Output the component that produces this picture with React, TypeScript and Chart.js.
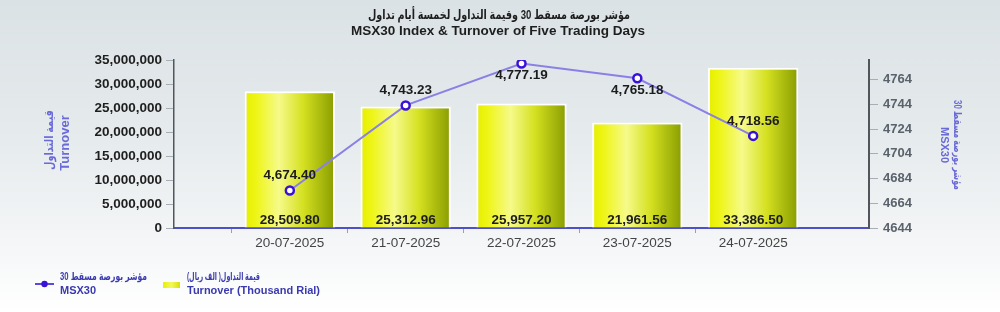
import React, { useEffect, useRef } from "react";
import { Chart, registerables } from "chart.js";

Chart.register(...registerables);

const dates = ["20-07-2025", "21-07-2025", "22-07-2025", "23-07-2025", "24-07-2025"];
const turnoverThousand = [28509.8, 25312.96, 25957.2, 21961.56, 33386.5];
const msx30 = [4674.4, 4743.23, 4777.19, 4765.18, 4718.56];
const leftTicks = [0, 5000000, 10000000, 15000000, 20000000, 25000000, 30000000, 35000000];
const rightTicks = [4644, 4664, 4684, 4704, 4724, 4744, 4764];

const titleAr = "مؤشر بورصة مسقط 30 وقيمة التداول لخمسة أيام تداول";
const titleEn = "MSX30 Index & Turnover of Five Trading Days";
const leftTitleAr = "قيمة التداول";
const leftTitleEn = "Turnover";
const rightTitleAr = "مؤشر بورصة مسقط 30";
const rightTitleEn = "MSX30";
const legendLineAr = "مؤشر بورصة مسقط 30";
const legendLineEn = "MSX30";
const legendBarAr = "قيمة التداول( الف ريال)";
const legendBarEn = "Turnover (Thousand Rial)";

const FONT = '"Liberation Sans", Arial, "DejaVu Sans", sans-serif';

const fmt = (v: number, d: number) =>
  v.toLocaleString("en-US", { minimumFractionDigits: d, maximumFractionDigits: d });

export default function App() {
  const ref = useRef<HTMLCanvasElement | null>(null);

  useEffect(() => {
    if (!ref.current) return;
    const labels = ["", ...dates, ""];
    const barData = [null, ...turnoverThousand.map((v) => v * 1000), null];
    const lineData = [null, ...msx30, null];

    const decor = {
      id: "decor",
      afterDatasetsDraw(chart: any) {
        const ctx = chart.ctx;
        const area = chart.chartArea;
        ctx.save();
        const barMeta = chart.getDatasetMeta(1);
        ctx.font = `bold 13.5px ${FONT}`;
        ctx.fillStyle = "#1c1c1c";
        ctx.textAlign = "center";
        ctx.textBaseline = "middle";
        barMeta.data.forEach((el: any, i: number) => {
          const v = barData[i];
          if (v == null) return;
          ctx.fillText(fmt(v / 1000, 2), el.x, area.bottom - 8);
        });
        const lineMeta = chart.getDatasetMeta(0);
        lineMeta.data.forEach((el: any, i: number) => {
          const v = lineData[i];
          if (v == null) return;
          const below = el.y - area.top < 20;
          ctx.fillText(fmt(v, 2), el.x, below ? el.y + 12 : el.y - 15);
        });
        ctx.restore();
      },
      afterDraw(chart: any) {
        const ctx = chart.ctx;
        ctx.save();
        ctx.fillStyle = "#1e1e1e";
        ctx.textAlign = "center";
        ctx.textBaseline = "middle";
        ctx.font = `bold 13px ${FONT}`;
        ctx.fillText(titleAr, 499, 15, 262);
        ctx.font = `bold 13.5px ${FONT}`;
        ctx.fillText(titleEn, 498, 31);
        // left axis title
        ctx.fillStyle = "#6a6ad8";
        ctx.save();
        ctx.translate(50, 140);
        ctx.rotate(-Math.PI / 2);
        ctx.font = `bold 12px ${FONT}`;
        ctx.fillText(leftTitleAr, 0, 0, 60);
        ctx.restore();
        ctx.save();
        ctx.translate(65, 143);
        ctx.rotate(-Math.PI / 2);
        ctx.font = `bold 13px ${FONT}`;
        ctx.fillText(leftTitleEn, 0, 0);
        ctx.restore();
        // right axis title
        ctx.save();
        ctx.translate(957, 145);
        ctx.rotate(Math.PI / 2);
        ctx.font = `bold 11px ${FONT}`;
        ctx.fillText(rightTitleAr, 0, 0, 90);
        ctx.restore();
        ctx.save();
        ctx.translate(944, 145);
        ctx.rotate(Math.PI / 2);
        ctx.font = `bold 11px ${FONT}`;
        ctx.fillText(rightTitleEn, 0, 0);
        ctx.restore();
        // legend
        ctx.strokeStyle = "#5a48e0";
        ctx.lineWidth = 2;
        ctx.beginPath();
        ctx.moveTo(35, 284);
        ctx.lineTo(54, 284);
        ctx.stroke();
        ctx.fillStyle = "#3a12d6";
        ctx.beginPath();
        ctx.arc(44.5, 284, 3.2, 0, Math.PI * 2);
        ctx.fill();
        const g = ctx.createLinearGradient(163, 0, 180, 0);
        g.addColorStop(0, "#e8f000");
        g.addColorStop(0.5, "#f2f760");
        g.addColorStop(1, "#d8e000");
        ctx.fillStyle = g;
        ctx.fillRect(163, 282, 17, 6);
        ctx.fillStyle = "#3a3ab0";
        ctx.textAlign = "left";
        ctx.font = `bold 11px ${FONT}`;
        ctx.fillText(legendLineAr, 60, 277, 87);
        ctx.fillText(legendLineEn, 60, 291);
        ctx.fillText(legendBarAr, 187, 277, 73);
        ctx.fillText(legendBarEn, 187, 291);
        ctx.restore();
      },
    };

    const barColor = (c: any) => {
      const chart = c.chart;
      const area = chart.chartArea;
      if (!area || c.type !== "data" || !chart.scales.x) return "#e8f000";
      const x = chart.scales.x.getPixelForValue(c.dataIndex);
      const half = ((area.right - area.left) / 6) * 0.78 / 2;
      const g = chart.ctx.createLinearGradient(x - half, 0, x + half, 0);
      g.addColorStop(0, "#e6ee00");
      g.addColorStop(0.12, "#eef514");
      g.addColorStop(0.38, "#f6fa8a");
      g.addColorStop(0.65, "#d4e020");
      g.addColorStop(1, "#889c00");
      return g;
    };

    const chart = new Chart(ref.current, {
      type: "bar",
      data: {
        labels,
        datasets: [
          {
            type: "line",
            label: "MSX30",
            data: lineData,
            yAxisID: "y1",
            order: 1,
            borderColor: "#8a80e6",
            borderWidth: 2,
            pointRadius: 4,
            pointBorderWidth: 2.5,
            pointBorderColor: "#3a12d6",
            pointBackgroundColor: "#ffffff",
            tension: 0,
            spanGaps: false,
          } as any,
          {
            type: "bar",
            label: "Turnover",
            data: barData,
            yAxisID: "y",
            order: 2,
            backgroundColor: barColor,
            borderColor: "#ffffff",
            borderWidth: 2,
            categoryPercentage: 0.78,
            barPercentage: 1,
          } as any,
        ],
      },
      options: {
        animation: false,
        responsive: false,
        maintainAspectRatio: false,
        layout: { padding: { top: 60, left: 0, right: 0, bottom: 0 } },
        plugins: { legend: { display: false }, tooltip: { enabled: false }, title: { display: false } },
        scales: {
          x: {
            type: "category",
            offset: false,
            grid: {
              display: true,
              drawOnChartArea: false,
              tickLength: 5,
              tickColor: (c: any) => (c.index === 0 || c.index === labels.length - 1 ? "rgba(0,0,0,0)" : "#9aa0a8"),
            },
            border: { color: "#4f4fc8", width: 2 },
            ticks: { color: "#444", font: { family: FONT, size: 13.5 }, padding: 2, maxRotation: 0, autoSkip: false },
            afterFit: (s: any) => {
              s.height = 84;
            },
          },
          y: {
            position: "left",
            min: 0,
            max: 35000000,
            grid: { display: true, drawOnChartArea: false, tickLength: 8, tickColor: "#a8aeb4" },
            border: { color: "#50565c", width: 1.5 },
            afterBuildTicks: (s: any) => {
              s.ticks = leftTicks.map((v) => ({ value: v }));
            },
            ticks: {
              color: "#1e1e1e",
              font: { family: FONT, size: 13.5, weight: "bold" },
              padding: 4,
              callback: (v: any) => Number(v).toLocaleString("en-US"),
            },
            afterFit: (s: any) => {
              s.width = 174;
            },
          },
          y1: {
            position: "right",
            min: 4644,
            max: 4780,
            grid: { display: true, drawOnChartArea: false, tickLength: 9, tickColor: "#a8aeb4" },
            border: { color: "#50565c", width: 2 },
            afterBuildTicks: (s: any) => {
              s.ticks = rightTicks.map((v) => ({ value: v }));
            },
            ticks: {
              color: "#5a626c",
              font: { family: FONT, size: 13, weight: "bold" },
              padding: 5,
              callback: (v: any) => String(v),
            },
            afterFit: (s: any) => {
              s.width = 131;
            },
          },
        },
      },
      plugins: [decor],
    } as any);
    return () => chart.destroy();
  }, []);

  return (
    <div
      style={{
        width: 1000,
        height: 312,
        background: "linear-gradient(to bottom, #dbe2e5 0%, #e6ebed 45%, #f3f5f6 75%, #ffffff 100%)",
      }}
    >
      <style>{"body{margin:0}"}</style>
      <canvas ref={ref} width={1000} height={312} style={{ display: "block" }} />
    </div>
  );
}
